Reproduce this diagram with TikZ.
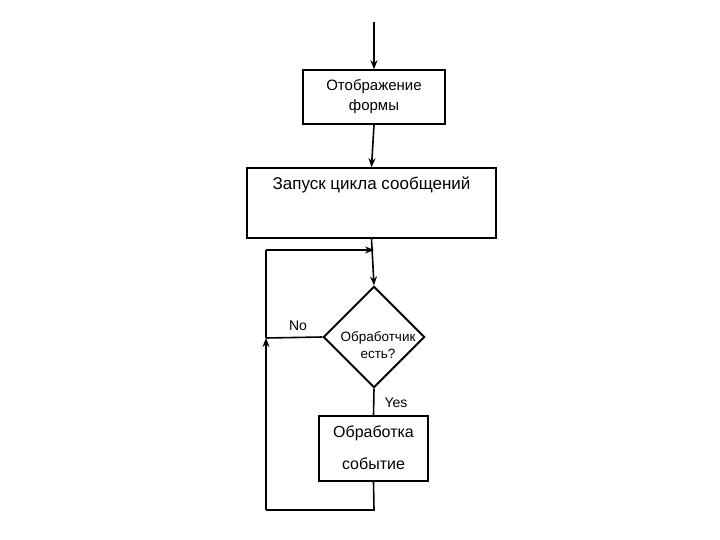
\documentclass[tikz,border=0pt]{standalone}
\usepackage{fontspec}
\setmainfont{Liberation Sans}
\usetikzlibrary{arrows.meta}
\begin{document}
\begin{tikzpicture}[x=1pt,y=-1pt,line width=1.6pt,
  box/.style={draw,rectangle,inner sep=0pt},
  arr/.style={-{Stealth[length=9pt,width=7pt]}},
  txt/.style={font=\fontsize{15}{20}\selectfont,align=center}]
\useasboundingbox (0,0) rectangle (720,540);
\node[box,minimum width=142pt,minimum height=54pt] (b1) at (374,97) {};
\node[txt] (t1) at (374,97) {Отображение\\формы};
\node[box,minimum width=249pt,minimum height=70pt] (b2) at (371.5,203) {};
\node[txt,font=\fontsize{17}{20}\selectfont] (t2) at (371.5,185) {Запуск цикла сообщений};
\node[draw,line width=2pt,shape=rectangle,rotate=45,minimum size=71pt,inner sep=0pt] (d) at (374,337) {};
\node[txt,font=\fontsize{13.5}{17}\selectfont] (td) at (378,345) {Обработчик\\есть?};
\node[box,minimum width=109pt,minimum height=65pt] (b3) at (373.5,448.5) {};
\node[txt,font=\fontsize{16}{32}\selectfont] (t3) at (373.5,448) {Обработка\\событие};
\coordinate (top) at (374,22);
\coordinate (lp) at (374,250);
\coordinate (ll) at (266,250);
\coordinate (lm) at (266,338);
\coordinate (lb) at (266,510);
\coordinate (rb) at (374,510);
\draw[arr] (top) -- (b1.north);
\draw[arr] (b1.south) -- (b2.north);
\draw[arr] (b2.south) -- (d.north east);
\draw[arr] (ll) -- (lp);
\draw (lm) -- (ll);
\draw (d.north west) -- (lm);
\draw[arr] (lb) -- (lm);
\draw (b3.south) -- (rb) -- (lb);
\draw (d.south west) -- (b3.north);
\node[font=\fontsize{14}{16}\selectfont] (no) at (298,326) {No};
\node[font=\fontsize{14}{16}\selectfont] (yes) at (396,403) {Yes};
\end{tikzpicture}
\end{document}
